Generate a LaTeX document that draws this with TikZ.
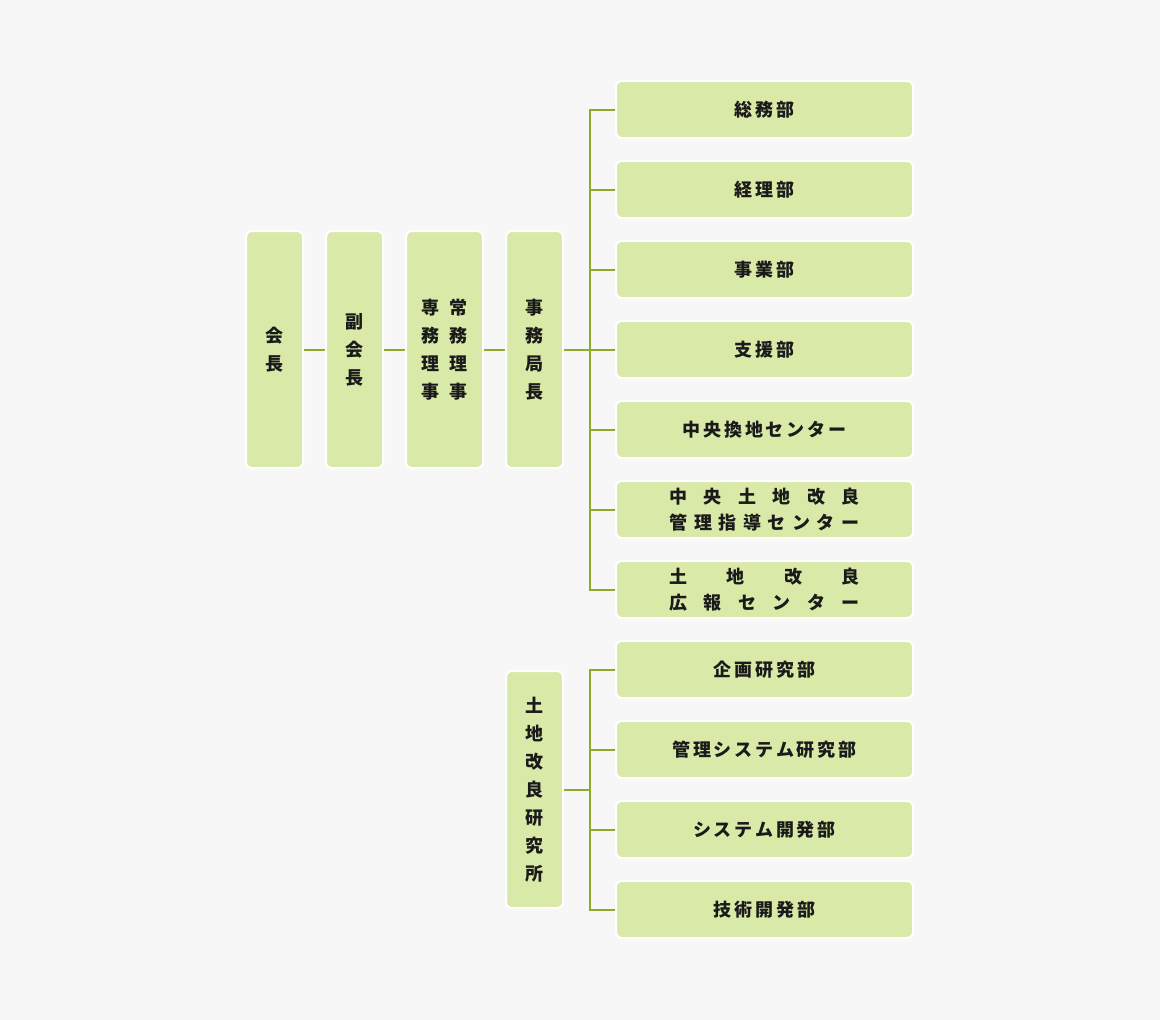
\documentclass[tikz,border=0pt]{standalone}
\usepackage{fontspec}
\setmainfont{Noto Sans CJK JP}
\definecolor{bggray}{HTML}{F7F7F7}
\definecolor{boxgreen}{HTML}{D8E9A8}
\definecolor{linegreen}{HTML}{8CAA2C}
\definecolor{inkblack}{HTML}{1A1A1A}
\begin{document}
\begin{tikzpicture}[x=1pt, y=-1pt,
  box/.style={draw=white, line width=2pt, fill=boxgreen, rounded corners=6pt,
    inner sep=0pt, text=inkblack, align=center},
  tall/.style={box, minimum width=57pt, minimum height=237pt,
    font=\bfseries\fontsize{18}{28}\selectfont},
  wide/.style={box, minimum width=297pt, minimum height=57pt,
    font=\bfseries\fontsize{18}{26}\selectfont\addfontfeature{LetterSpace=16}},
  link/.style={draw=linegreen, line width=2pt}]
  \useasboundingbox[fill=bggray] (0,0) rectangle (1160,1020);
  % top row
  \node[tall] (1) at (274.5, 349.5) {会\\長};
  \node[tall] (2) at (354.5, 349.5) {副\\会\\長};
  \node[tall, minimum width=77pt] (3) at (444.5, 349.5)
    {専\hspace{10pt}常\\務\hspace{10pt}務\\理\hspace{10pt}理\\事\hspace{10pt}事};
  \node[tall] (4) at (534.5, 349.5) {事\\務\\局\\長};
  % departments
  \node[wide] (a1) at (764.5, 109.5) {総務部};
  \node[wide] (a2) at (764.5, 189.5) {経理部};
  \node[wide] (a3) at (764.5, 269.5) {事業部};
  \node[wide] (a4) at (764.5, 349.5) {支援部};
  \node[wide] (a5) at (764.5, 429.5) {中央換地センター};
  \node[wide] (a6) at (764.5, 509.5)
    {\makebox[190pt][s]{中\hfil 央\hfil 土\hfil 地\hfil 改\hfil 良}\\
     \makebox[190pt][s]{管\hfil 理\hfil 指\hfil 導\hfil セ\hfil ン\hfil タ\hfil ー}};
  \node[wide] (a7) at (764.5, 589.5)
    {\makebox[190pt][s]{土\hfil 地\hfil 改\hfil 良}\\
     \makebox[190pt][s]{広\hfil 報\hfil セ\hfil ン\hfil タ\hfil ー}};
  % institute
  \node[tall] (5) at (534.5, 789.5) {土\\地\\改\\良\\研\\究\\所};
  \node[wide] (b1) at (764.5, 669.5) {企画研究部};
  \node[wide] (b2) at (764.5, 749.5) {管理システム研究部};
  \node[wide] (b3) at (764.5, 829.5) {システム開発部};
  \node[wide] (b4) at (764.5, 909.5) {技術開発部};
  % connectors
  \coordinate (t1) at (590, 349.5);
  \coordinate (t2) at (590, 789.5);
  \draw[link] (1) -- (2);
  \draw[link] (2) -- (3);
  \draw[link] (3) -- (4);
  \draw[link] (4) -- (t1);
  \draw[link] (5) -- (t2);
  \draw[link] (a1.west) -- (a1.west -| t1) -- (a7.west -| t1) -- (a7.west);
  \foreach \i in {2,...,6}
    \draw[link] (a\i.west) -- (a\i.west -| t1);
  \draw[link] (b1.west) -- (b1.west -| t2) -- (b4.west -| t2) -- (b4.west);
  \foreach \i in {2,3}
    \draw[link] (b\i.west) -- (b\i.west -| t2);
\end{tikzpicture}
\end{document}
